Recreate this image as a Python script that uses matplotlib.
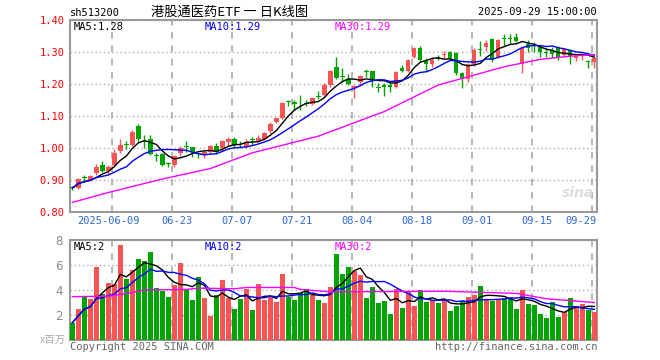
import matplotlib
matplotlib.use("Agg")
import matplotlib.pyplot as plt
import numpy as np
import pandas as pd

# daily candles, 2025-05-28 .. 2025-09-29 (88 trading days)
open_ = [0.876, 0.876, 0.908, 0.900, 0.923, 0.947, 0.929, 0.947, 0.990, 1.010,
         1.010, 1.069, 1.022, 1.028, 0.978, 0.980, 0.950, 0.948, 0.983, 1.005,
         1.002, 0.981, 0.979, 0.986, 1.006, 0.999, 1.020, 1.029, 1.012, 1.004,
         1.026, 1.023, 1.028, 1.053, 1.082, 1.095, 1.146, 1.145, 1.137, 1.140,
         1.137, 1.159, 1.166, 1.197, 1.252, 1.224, 1.216, 1.187, 1.207, 1.240,
         1.240, 1.190, 1.197, 1.197, 1.192, 1.251, 1.242, 1.283, 1.313, 1.272,
         1.264, 1.283, 1.292, 1.299, 1.296, 1.233, 1.216, 1.262, 1.307, 1.315,
         1.341, 1.283, 1.341, 1.341, 1.346, 1.262, 1.325, 1.321, 1.317, 1.300,
         1.306, 1.313, 1.290, 1.306, 1.280, 1.290, 1.270, 1.270]
high = [0.882, 0.906, 0.915, 0.915, 0.949, 0.959, 0.946, 0.998, 1.028, 1.022,
        1.056, 1.074, 1.042, 1.040, 0.985, 0.985, 0.957, 0.978, 1.005, 1.022,
        1.004, 0.989, 0.993, 1.009, 1.015, 1.025, 1.034, 1.034, 1.022, 1.028,
        1.035, 1.040, 1.050, 1.080, 1.097, 1.145, 1.150, 1.150, 1.165, 1.150,
        1.160, 1.178, 1.202, 1.244, 1.283, 1.250, 1.230, 1.197, 1.228, 1.246,
        1.242, 1.202, 1.202, 1.207, 1.240, 1.260, 1.278, 1.317, 1.320, 1.280,
        1.285, 1.290, 1.304, 1.304, 1.301, 1.238, 1.267, 1.311, 1.334, 1.337,
        1.343, 1.340, 1.356, 1.355, 1.358, 1.316, 1.337, 1.330, 1.322, 1.313,
        1.315, 1.320, 1.313, 1.309, 1.293, 1.296, 1.275, 1.283]
low = [0.868, 0.873, 0.898, 0.897, 0.916, 0.924, 0.920, 0.940, 0.985, 0.997,
       1.006, 1.020, 1.000, 0.978, 0.960, 0.944, 0.940, 0.940, 0.975, 0.988,
       0.973, 0.970, 0.968, 0.980, 0.980, 0.990, 1.007, 1.000, 0.999, 0.999,
       1.010, 1.020, 1.026, 1.046, 1.079, 1.090, 1.130, 1.119, 1.119, 1.130,
       1.134, 1.153, 1.160, 1.192, 1.215, 1.207, 1.197, 1.155, 1.194, 1.223,
       1.192, 1.176, 1.163, 1.176, 1.186, 1.236, 1.238, 1.280, 1.272, 1.236,
       1.254, 1.275, 1.280, 1.275, 1.228, 1.186, 1.205, 1.257, 1.288, 1.304,
       1.270, 1.280, 1.320, 1.324, 1.330, 1.235, 1.300, 1.300, 1.285, 1.283,
       1.280, 1.275, 1.285, 1.262, 1.272, 1.275, 1.251, 1.250]
close = [0.875, 0.903, 0.906, 0.913, 0.942, 0.929, 0.942, 0.985, 1.009, 1.009,
         1.050, 1.027, 1.020, 0.982, 0.976, 0.948, 0.949, 0.975, 0.999, 1.003,
         0.987, 0.980, 0.986, 1.006, 0.987, 1.021, 1.027, 1.010, 1.011, 1.020,
         1.025, 1.032, 1.048, 1.075, 1.093, 1.140, 1.145, 1.138, 1.136, 1.139,
         1.155, 1.158, 1.197, 1.241, 1.218, 1.223, 1.200, 1.194, 1.225, 1.238,
         1.208, 1.189, 1.192, 1.191, 1.237, 1.242, 1.275, 1.313, 1.275, 1.262,
         1.275, 1.282, 1.293, 1.280, 1.233, 1.216, 1.262, 1.306, 1.305, 1.327,
         1.275, 1.337, 1.340, 1.340, 1.335, 1.312, 1.313, 1.320, 1.301, 1.298,
         1.293, 1.280, 1.308, 1.289, 1.289, 1.294, 1.268, 1.280]
# volume, millions
volume = [1.39, 2.48, 3.55, 3.28, 5.87, 3.68, 4.59, 4.48, 7.63, 4.88,
          5.60, 6.48, 6.35, 7.07, 4.19, 3.95, 3.47, 4.40, 6.19, 4.05,
          3.20, 5.04, 3.39, 1.95, 3.60, 4.80, 3.39, 2.48, 3.28, 4.08,
          2.40, 4.48, 3.23, 3.44, 3.07, 5.28, 3.47, 3.20, 3.73, 4.05,
          3.73, 3.20, 2.99, 4.27, 6.88, 5.28, 5.87, 5.52, 5.20, 3.39,
          4.27, 2.99, 3.15, 2.08, 4.08, 2.59, 3.87, 2.75, 4.00, 3.07,
          3.20, 2.99, 3.20, 2.35, 2.72, 3.15, 3.47, 3.60, 4.32, 3.31,
          3.15, 3.28, 3.39, 3.33, 2.48, 4.00, 2.88, 2.80, 2.08, 1.79,
          3.07, 1.87, 2.27, 3.33, 2.61, 2.88, 2.40, 2.24]

# 30-day averages as drawn (they need data from before the window)
ma30_idx = [0, 6, 15, 23, 30, 41, 52, 61, 67, 72, 78, 83, 87]
ma30_val = [0.830, 0.861, 0.903, 0.936, 0.985, 1.037, 1.114, 1.197, 1.228, 1.254, 1.277, 1.287, 1.292]
vma30_idx = [0, 6, 10, 12, 19, 21, 27, 29, 37, 38, 43, 62, 74, 79, 87]
vma30_val = [3.47, 3.50, 3.80, 4.00, 4.05, 4.15, 4.10, 4.20, 4.20, 4.05, 3.85, 3.90, 3.73, 3.30, 3.00]

tick_idx = [7, 17, 27, 37, 47, 57, 67, 77, 87]
tick_labels = ["2025-06-09", "06-23", "07-07", "07-21", "08-04", "08-18", "09-01", "09-15", "09-29"]

RED = "#f85454"
GREEN = "#00a400"
GRID = "#aaaaaa"
MONO = "DejaVu Sans Mono"

W, H = 660, 360
def box(l, t, r, b):
    return [l / W, 1 - b / H, (r - l) / W, (b - t) / H]

def ftext(px, py, s, **kw):
    fig.text(px / W, 1 - py / H, s, **kw)

fig = plt.figure(figsize=(6.6, 3.6), dpi=100)
ax = fig.add_axes(box(70, 20, 597, 212))
axv = fig.add_axes(box(70, 240, 597, 340))

o = np.array(open_); h = np.array(high); l = np.array(low); c = np.array(close)
v = np.array(volume)
x = np.arange(len(c))
colors = np.where(c >= o, RED, GREEN)

# candles
ax.vlines(x, l, h, colors=colors, linewidth=1, zorder=3)
ax.bar(x, np.maximum(np.abs(c - o), 0.003), bottom=np.minimum(o, c),
       width=0.72, color=colors, linewidth=0, zorder=3)

ma5 = pd.Series(c).rolling(5, min_periods=1).mean()
ma10 = pd.Series(c).rolling(10, min_periods=1).mean()
ax.plot(x, ma5, color="black", lw=1, zorder=4)
ax.plot(x, ma10, color="#0000ff", lw=1, zorder=4)
ax.plot(ma30_idx, ma30_val, color="#ff00ff", lw=1, zorder=4)

# volume
axv.bar(x, v, width=0.83, color=colors, linewidth=0, zorder=3)
vma5 = pd.Series(v).rolling(5, min_periods=1).mean()
vma10 = pd.Series(v).rolling(10, min_periods=1).mean()
axv.plot(x, vma5, color="black", lw=1, zorder=4)
axv.plot(x, vma10, color="#0000ff", lw=1, zorder=4)
axv.plot(vma30_idx, vma30_val, color="#ff00ff", lw=1, zorder=4)

for a in (ax, axv):
    a.set_xlim(-0.4, 87.45)
    a.set_xticks(np.array(tick_idx) - 0.33)
    a.grid(axis="x", linestyle=(0, (4, 4)), color=GRID, lw=1.2)
    a.grid(axis="y", linestyle=(0, (1, 2)), color=GRID, lw=1)
    a.set_axisbelow(True)
    a.tick_params(axis="x", length=0, labelbottom=False)
    a.tick_params(axis="y", length=0)
    for s in a.spines.values():
        s.set_color("#999999")
        s.set_linewidth(1.5)

ax.set_ylim(0.80, 1.40)
ax.set_yticks(np.round(np.arange(0.80, 1.41, 0.10), 2))
ax.set_yticklabels([f"{t:.2f}" for t in np.arange(0.80, 1.41, 0.10)],
                   color="red", fontsize=7.5, family=MONO)
ax.tick_params(axis="y", pad=4)

axv.set_ylim(0, 8)
axv.set_yticks([2, 4, 6, 8])
axv.set_yticklabels(["2", "4", "6", "8"], color="#888888", fontsize=8.5)
axv.tick_params(axis="y", pad=5)

# date labels
for i, (k, lab) in enumerate(zip(tick_idx, tick_labels)):
    if i == 0:
        ax.text(6.0, -0.045, lab, transform=ax.get_xaxis_transform(), ha="center", va="center",
                color="#2a6ad6", fontsize=7.5, family=MONO)
    elif i == len(tick_idx) - 1:
        ax.text(87.45, -0.045, lab, transform=ax.get_xaxis_transform(), ha="right", va="center",
                color="#2a6ad6", fontsize=7.5, family=MONO)
    else:
        ax.text(k + 0.4, -0.045, lab, transform=ax.get_xaxis_transform(), ha="center", va="center",
                color="#2a6ad6", fontsize=7.5, family=MONO)

# header
ftext(70, 13, "sh513200", ha="left", va="center", fontsize=7.5, family=MONO)
ftext(230, 12, "港股通医药ETF 一 日K线图", ha="center", va="center", fontsize=9.5,
      family=["Noto Sans CJK SC", "DejaVu Sans"])
ftext(597, 12, "2025-09-29 15:00:00", ha="right", va="center", fontsize=7.5, family=MONO)

# legends
ftext(74, 27, "MA5:1.28", ha="left", va="center", fontsize=7.5, family=MONO, color="black")
ftext(205, 27, "MA10:1.29", ha="left", va="center", fontsize=7.5, family=MONO, color="#0000ff")
ftext(335, 27, "MA30:1.29", ha="left", va="center", fontsize=7.5, family=MONO, color="#ff00ff")
ftext(74, 247, "MA5:2", ha="left", va="center", fontsize=7.5, family=MONO, color="black")
ftext(205, 247, "MA10:2", ha="left", va="center", fontsize=7.5, family=MONO, color="#0000ff")
ftext(335, 247, "MA30:2", ha="left", va="center", fontsize=7.5, family=MONO, color="#ff00ff")

# footer
ftext(66, 340, "x百万", ha="right", va="center", fontsize=7.5, color="#aaaaaa",
      family=["Noto Sans CJK SC", "DejaVu Sans"])
ftext(70, 347, "Copyright 2025 SINA.COM", ha="left", va="center", fontsize=7.5,
      family=MONO, color="#666666")
ftext(597, 347, "http://finance.sina.com.cn", ha="right", va="center", fontsize=7.5,
      family=MONO, color="#666666")

# watermark
ftext(578, 193, "sina", ha="center", va="center", fontsize=10, style="italic",
      weight="bold", color="#dddddd", family="DejaVu Sans")

fig.savefig("out.png", dpi=100)
